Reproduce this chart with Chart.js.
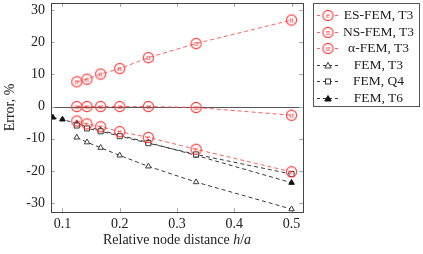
<!DOCTYPE html>
<html lang="en">
<head>
    <meta charset="UTF-8">
    <title>Error vs relative node distance</title>
    <script src="https://cdn.jsdelivr.net/npm/chart.js"></script>
    <style>
        body { margin: 0; background: #fff; }
        #wrap { position: relative; width: 423px; height: 254px; font-family: "Liberation Serif", serif; }
        #legend {
            position: absolute; left: 313px; top: 3px; width: 107px; height: 104px;
            border: 1px solid #555; background: #fff; box-sizing: border-box; padding-top: 3px;
        }
        .row { display: flex; align-items: center; height: 16.5px; }
        .row canvas { margin-left: 3px; }
        .row span { flex: 1; text-align: center; font-size: 13.5px; color: #222; padding-right: 1px; white-space: nowrap; }
        #xtitle { position: absolute; left: 51px; width: 252px; top: 232px; text-align: center; font-size: 14px; color: #222; }
    </style>
</head>
<body>
<div id="wrap">
    <canvas id="chart" width="423" height="254"></canvas>
    <div id="legend"></div>
    <div id="xtitle">Relative node distance <i>h</i>/<i>a</i></div>
</div>
<script>
    // data
    const xs = [1/8, 1/7, 1/6, 1/5, 1/4, 1/3, 1/2];
    const esFem = [-4.5, -5.4, -6.3, -7.8, -9.6, -13.3, -20.3];
    const nsFem = [7.7, 8.5, 10.1, 11.8, 15.2, 19.6, 26.9];
    const alphaFem = [0, 0, 0, 0, 0, -0.3, -2.7];
    const femT3 = [-9.6, -11.1, -12.8, -15.2, -18.6, -23.5, -31.9];
    const femQ4 = [-5.9, -6.8, -7.7, -9.2, -11.4, -14.9, -21.0];
    const t6X = [1/12, 1/10, 1/8, 1/6, 1/4, 1/3, 1/2];
    const femT6 = [-3.4, -4.0, -5.3, -7.4, -11.2, -15.2, -23.7];
    const xTicks = [0.1, 0.2, 0.3, 0.4, 0.5];
    const yTicks = [-30, -20, -10, 0, 10, 20, 30];

    const RED = "#ff3b3b";
    const REDLINE = "rgba(255,80,80,0.9)";
    const DARK = "#3a3a3a";

    function circleMarker(letter) {
        let c = document.createElement("canvas");
        c.width = 13; c.height = 13;
        let g = c.getContext("2d");
        g.strokeStyle = RED; g.lineWidth = 1.1;
        g.beginPath(); g.arc(6.5, 6.5, 5.1, 0, 2 * Math.PI); g.stroke();
        g.fillStyle = RED;
        g.font = '9px "Liberation Serif"';
        g.textAlign = "center"; g.textBaseline = "middle";
        g.fillText(letter, 6.5, 6.3);
        return c;
    }

    const eMark = circleMarker("e");
    const nMark = circleMarker("n");
    const aMark = circleMarker("\u03b1");

    function pts(x, y) { return x.map((v, i) => ({ x: v, y: y[i] })); }

    const series = [
        { label: "ES-FEM, T3", data: pts(xs, esFem), color: REDLINE, style: eMark, r: 6, fill: "transparent", bc: RED },
        { label: "NS-FEM, T3", data: pts(xs, nsFem), color: REDLINE, style: nMark, r: 6, fill: "transparent", bc: RED },
        { label: "\u03b1-FEM, T3", data: pts(xs, alphaFem), color: REDLINE, style: aMark, r: 6, fill: "transparent", bc: RED },
        { label: "FEM, T3", data: pts(xs, femT3), color: DARK, style: "triangle", r: 3.2, fill: "#fff", bc: DARK },
        { label: "FEM, Q4", data: pts(xs, femQ4), color: DARK, style: "rect", r: 3.6, fill: "#fff", bc: DARK },
        { label: "FEM, T6", data: pts(t6X, femT6), color: DARK, style: "triangle", r: 3.2, fill: "#111", bc: "#111" }
    ];

    // frame, inward ticks and zero line
    const framePlugin = {
        id: "frame",
        beforeDatasetsDraw(chart) {
            const { ctx, chartArea: a, scales } = chart;
            ctx.save();
            ctx.strokeStyle = "#555"; ctx.lineWidth = 1;
            let y0 = Math.round(scales.y.getPixelForValue(0)) + 0.5;
            ctx.beginPath(); ctx.moveTo(a.left, y0); ctx.lineTo(a.right, y0); ctx.stroke();
            ctx.strokeStyle = "#aaa";
            ctx.beginPath();
            yTicks.forEach(v => {
                let p = Math.round(scales.y.getPixelForValue(v)) + 0.5;
                ctx.moveTo(a.left, p); ctx.lineTo(a.left + 4, p);
                ctx.moveTo(a.right, p); ctx.lineTo(a.right - 4, p);
            });
            xTicks.forEach(v => {
                let p = Math.round(scales.x.getPixelForValue(v)) + 0.5;
                ctx.moveTo(p, a.bottom); ctx.lineTo(p, a.bottom - 4);
                ctx.moveTo(p, a.top); ctx.lineTo(p, a.top + 4);
            });
            ctx.stroke();
            ctx.restore();
        },
        afterDraw(chart) {
            const { ctx, chartArea: a } = chart;
            ctx.save();
            ctx.strokeStyle = "#444"; ctx.lineWidth = 1;
            ctx.strokeRect(Math.round(a.left) + 0.5, Math.round(a.top) + 0.5,
                Math.round(a.right - a.left), Math.round(a.bottom - a.top));
            ctx.restore();
        }
    };

    const tickFont = { family: "Liberation Serif", size: 14 };

    new Chart(document.getElementById("chart"), {
        type: "line",
        data: {
            datasets: series.map(s => ({
                label: s.label,
                data: s.data,
                borderColor: s.color,
                borderWidth: 1,
                borderDash: [4, 3],
                pointStyle: s.style,
                pointRadius: s.r,
                pointBackgroundColor: s.fill,
                pointBorderColor: s.bc,
                pointBorderWidth: 1,
                fill: false,
                tension: 0
            }))
        },
        options: {
            responsive: false,
            animation: false,
            layout: { autoPadding: false, padding: { top: 3, right: 120, left: 0, bottom: 0 } },
            plugins: { legend: { display: false }, tooltip: { enabled: false } },
            scales: {
                x: {
                    type: "linear", min: 0.08, max: 0.52,
                    grid: { display: false, drawTicks: false }, border: { display: false },
                    afterBuildTicks: s => { s.ticks = xTicks.map(v => ({ value: v })); },
                    afterFit: s => { s.height = 42; },
                    ticks: { font: tickFont, color: "#222", padding: 4, maxRotation: 0,
                        callback: v => v.toFixed(1) }
                },
                y: {
                    min: -32.8, max: 32.2,
                    grid: { display: false, drawTicks: false }, border: { display: false },
                    afterBuildTicks: s => { s.ticks = yTicks.map(v => ({ value: v })); },
                    afterFit: s => { s.width = 51; s.paddingTop = 0; s.paddingBottom = 0; },
                    ticks: { font: tickFont, color: "#222", padding: 6 },
                    title: { display: true, text: "Error, %", font: tickFont, color: "#222", padding: { top: 2, bottom: 0 } }
                }
            }
        },
        plugins: [framePlugin]
    });

    // legend with dashed line + marker
    const legend = document.getElementById("legend");
    series.forEach(s => {
        let row = document.createElement("div");
        row.className = "row";
        let c = document.createElement("canvas");
        c.width = 22; c.height = 16;
        let g = c.getContext("2d");
        g.strokeStyle = s.color; g.lineWidth = 1; g.setLineDash([3, 3]);
        g.beginPath(); g.moveTo(0, 8.5); g.lineTo(22, 8.5); g.stroke();
        g.setLineDash([]);
        if (s.style instanceof HTMLCanvasElement) {
            g.fillStyle = "#fff";
            g.beginPath(); g.arc(11, 8.5, 5, 0, 2 * Math.PI); g.fill();
            g.drawImage(s.style, 11 - 6.5, 8.5 - 6.5);
        } else if (s.style === "triangle") {
            g.fillStyle = s.fill; g.strokeStyle = s.bc;
            g.beginPath(); g.moveTo(11, 5.5); g.lineTo(14.2, 11); g.lineTo(7.8, 11); g.closePath();
            g.fill(); g.stroke();
        } else {
            g.fillStyle = s.fill; g.strokeStyle = s.bc;
            g.fillRect(8, 5.5, 6, 6); g.strokeRect(8.5, 6, 5, 5);
        }
        let t = document.createElement("span");
        t.textContent = s.label;
        row.appendChild(c); row.appendChild(t);
        legend.appendChild(row);
    });
</script>
</body>
</html>
